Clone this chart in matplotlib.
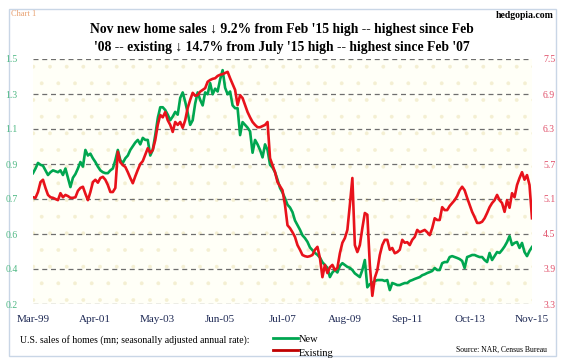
import numpy as np
import matplotlib.pyplot as plt
from matplotlib.patches import Rectangle
from matplotlib.lines import Line2D

plt.rcParams['font.family'] = ['Liberation Serif', 'DejaVu Serif']
plt.rcParams['hatch.linewidth'] = 0.3

# monthly, Mar-1999 .. Nov-2015 (mn, SAAR)
new_1999 = [0.885, 0.91, 0.94, 0.93, 0.925, 0.90, 0.875, 0.89, 0.90, 0.895]
new_2000 = [0.89, 0.90, 0.875, 0.91, 0.86, 0.81, 0.86, 0.88, 0.91, 0.945, 0.92, 1.01]
new_2001 = [0.98, 0.99, 0.965, 0.945, 0.92, 0.90, 0.89, 0.885, 0.885, 0.90, 0.91, 0.955]
new_2002 = [1.01, 0.955, 0.94, 0.965, 0.98, 1.01, 1.03, 1.05, 1.064, 1.04, 1.075, 1.064]
new_2003 = [1.064, 0.98, 1.01, 1.09, 1.18, 1.24, 1.24, 1.225, 1.20, 1.17, 1.19, 1.215]
new_2004 = [1.20, 1.29, 1.32, 1.27, 1.21, 1.145, 1.17, 1.26, 1.32, 1.28, 1.25, 1.32]
new_2005 = [1.31, 1.37, 1.31, 1.34, 1.325, 1.39, 1.44, 1.345, 1.31, 1.325, 1.25, 1.235]
new_2006 = [1.235, 1.09, 1.16, 1.145, 1.13, 1.11, 0.995, 1.064, 1.04, 1.01, 0.97, 1.04]
new_2007 = [1.01, 0.93, 0.915, 0.89, 0.85, 0.805, 0.78, 0.75, 0.715, 0.70, 0.675, 0.63]
new_2008 = [0.605, 0.58, 0.55, 0.535, 0.515, 0.485, 0.47, 0.455, 0.445, 0.43, 0.405, 0.39]
new_2009 = [0.375, 0.325, 0.35, 0.363, 0.35, 0.385, 0.40, 0.39, 0.38, 0.375, 0.363, 0.345]
new_2010 = [0.335, 0.325, 0.363, 0.417, 0.27, 0.287, 0.293, 0.304, 0.309, 0.309, 0.309, 0.304]
new_2011 = [0.309, 0.255, 0.293, 0.288, 0.282, 0.282, 0.288, 0.293, 0.293, 0.304, 0.309, 0.315]
new_2012 = [0.32, 0.325, 0.335, 0.34, 0.347, 0.352, 0.358, 0.374, 0.363, 0.363, 0.40, 0.406]
new_2013 = [0.406, 0.433, 0.438, 0.433, 0.428, 0.422, 0.412, 0.374, 0.433, 0.438, 0.444, 0.444]
new_2014 = [0.438, 0.433, 0.433, 0.417, 0.406, 0.455, 0.417, 0.438, 0.46, 0.455, 0.471, 0.49]
new_2015 = [0.514, 0.546, 0.498, 0.509, 0.514, 0.482, 0.509, 0.46, 0.438, 0.466, 0.487]

ex_1999 = [5.13, 5.12, 5.22, 5.39, 5.43, 5.29, 5.17, 5.13, 5.12, 5.10]
ex_2000 = [5.08, 5.20, 5.13, 5.17, 5.15, 5.12, 5.12, 5.13, 5.24, 5.29, 5.31, 5.19]
ex_2001 = [5.08, 5.22, 5.39, 5.43, 5.38, 5.46, 5.48, 5.43, 5.34, 5.22, 5.22, 5.29]
ex_2002 = [5.91, 5.73, 5.68, 5.65, 5.56, 5.46, 5.37, 5.49, 5.60, 5.70, 5.75, 5.86]
ex_2003 = [5.97, 5.89, 5.94, 6.11, 6.37, 6.54, 6.50, 6.59, 6.45, 6.37, 6.25, 6.42]
ex_2004 = [6.37, 6.42, 6.32, 6.45, 6.66, 6.80, 6.92, 6.87, 6.88, 6.94, 6.97, 7.0]
ex_2005 = [7.11, 7.14, 7.16, 7.17, 7.21, 7.23, 7.24, 7.26, 7.28, 7.17, 7.07, 6.97]
ex_2006 = [6.71, 6.88, 6.83, 6.71, 6.59, 6.50, 6.42, 6.37, 6.33, 6.33, 6.35, 6.37]
ex_2007 = [6.42, 5.80, 5.68, 5.56, 5.39, 5.32, 5.25, 5.0, 4.65, 4.60, 4.53, 4.45]
ex_2008 = [4.31, 4.23, 4.14, 4.12, 4.11, 4.12, 4.14, 4.23, 4.28, 4.09, 3.76, 3.97]
ex_2009 = [3.83, 3.93, 3.97, 3.88, 3.92, 4.17, 4.35, 4.43, 4.57, 5.0, 5.46, 4.31]
ex_2010 = [4.19, 4.31, 4.60, 4.86, 4.83, 3.97, 3.44, 3.75, 3.88, 4.14, 4.31, 4.40]
ex_2011 = [4.40, 4.23, 4.26, 4.17, 4.19, 4.23, 4.40, 4.35, 4.36, 4.31, 4.40, 4.45]
ex_2012 = [4.57, 4.53, 4.55, 4.57, 4.53, 4.48, 4.60, 4.77, 4.74, 4.74, 4.96, 4.91]
ex_2013 = [4.91, 4.98, 5.03, 5.08, 5.15, 5.25, 5.31, 5.25, 5.12, 5.0, 4.88, 4.79]
ex_2014 = [4.69, 4.69, 4.71, 4.77, 4.86, 4.96, 5.03, 5.08, 5.17, 5.08, 5.03, 4.88]
ex_2015 = [5.08, 4.95, 5.20, 5.13, 5.34, 5.46, 5.56, 5.43, 5.51, 5.34, 4.77]

new_sales = (new_1999 + new_2000 + new_2001 + new_2002 + new_2003 + new_2004 + new_2005
             + new_2006 + new_2007 + new_2008 + new_2009 + new_2010 + new_2011 + new_2012
             + new_2013 + new_2014 + new_2015)
existing_sales = (ex_1999 + ex_2000 + ex_2001 + ex_2002 + ex_2003 + ex_2004 + ex_2005
                  + ex_2006 + ex_2007 + ex_2008 + ex_2009 + ex_2010 + ex_2011 + ex_2012
                  + ex_2013 + ex_2014 + ex_2015)

x_labels = ['Mar-99', 'Apr-01', 'May-03', 'Jun-05', 'Jul-07', 'Aug-09', 'Sep-11', 'Oct-13', 'Nov-15']
label_step = 25  # months between labels
left_ticks = np.linspace(0.18, 1.5, 8)
right_ticks = np.linspace(3.3, 7.5, 8)

green = '#00A650'
red = '#E8121B'

W, H = 564, 362
fig = plt.figure(figsize=(W / 100, H / 100), dpi=100, facecolor='white')

# outer frame
fig.patches.append(Rectangle((9 / W, 1 - 356 / H), 547 / W, 347 / H, transform=fig.transFigure,
                             facecolor='none', edgecolor='#C9D6E6', linewidth=1.0, zorder=-5))

ax = fig.add_axes([33 / W, 1 - 304 / H, 499 / W, 245 / H])
ax.set_facecolor('#FFFFF7')
ax.add_patch(Rectangle((0, 0), 1, 1, transform=ax.transAxes, facecolor='none',
                       edgecolor='#F4EFD2', hatch='.', linewidth=0, zorder=0))

x = np.arange(len(new_sales))
ax.plot(x, new_sales, color=green, lw=1.9, solid_joinstyle='round', zorder=3)
ax.set_xlim(0, len(new_sales) - 1)
ax.set_ylim(0.18, 1.5)
ax.set_yticks(left_ticks)
ax.set_yticklabels(['%.1f' % v for v in left_ticks], color='#4DB883', fontsize=7)
ax.set_xticks(np.arange(0, len(new_sales), label_step))
ax.set_xticklabels(x_labels, color='#1F2A55', fontsize=8)
ax.tick_params(axis='x', length=0, pad=8)
ax.tick_params(axis='y', length=0, pad=11)
ax.grid(axis='y', color='#6E6E6E', linestyle=(0, (4, 3)), linewidth=0.9)
for s in ax.spines.values():
    s.set_visible(False)

ax2 = ax.twinx()
ax2.plot(x, existing_sales, color=red, lw=1.9, solid_joinstyle='round', zorder=3)
ax2.set_ylim(3.3, 7.5)
ax2.set_yticks(right_ticks)
ax2.set_yticklabels(['%.1f' % v for v in right_ticks], color='#E0506A', fontsize=7)
ax2.tick_params(length=0, pad=8)
for s in ax2.spines.values():
    s.set_visible(False)

fig.text(11 / W, 1 - 14 / H, 'Chart 1', fontsize=6, color='#E8A070', va='center')
fig.text(554 / W, 1 - 16 / H, 'hedgopia.com', fontsize=7, fontweight='bold', ha='right', va='center')
fig.text(282 / W, 1 - 30 / H, "Nov new home sales \u2193 9.2% from Feb '15 high -- highest since Feb",
         fontsize=9.8, fontweight='bold', ha='center', va='center')
fig.text(282 / W, 1 - 47 / H, "'08 -- existing \u2193 14.7% from July '15 high -- highest since Feb '07",
         fontsize=9.8, fontweight='bold', ha='center', va='center')

fig.text(20 / W, 1 - 340 / H, 'U.S. sales of homes (mn; seasonally adjusted annual rate):',
         fontsize=7, va='center')
fig.lines.append(Line2D([273 / W, 298 / W], [1 - 338 / H, 1 - 338 / H], transform=fig.transFigure,
                        color=green, lw=2))
fig.lines.append(Line2D([273 / W, 298 / W], [1 - 350 / H, 1 - 350 / H], transform=fig.transFigure,
                        color='#C00000', lw=2))
fig.text(299 / W, 1 - 340 / H, 'New', fontsize=7.5, va='center')
fig.text(299 / W, 1 - 353 / H, 'Existing', fontsize=7.5, va='center')
fig.text(547 / W, 1 - 350 / H, 'Source: NAR, Census Bureau', fontsize=5.5, ha='right', va='center')

fig.savefig('out.png', dpi=100)
